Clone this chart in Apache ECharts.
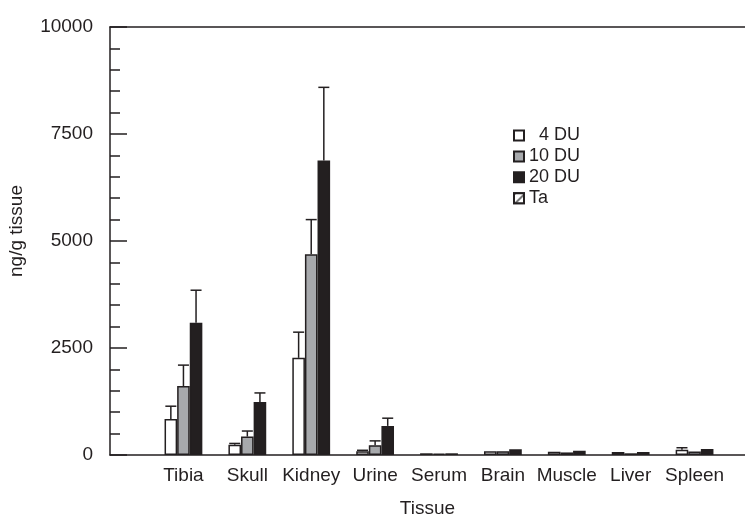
<!DOCTYPE html>
<html>
<head>
<meta charset="utf-8">
<script src="https://cdn.jsdelivr.net/npm/echarts@6/dist/echarts.min.js"></script>
<style>
html, body { margin: 0; padding: 0; background: #fff; }
#chart { width: 745px; height: 515px; }
</style>
</head>
<body>
<div id="chart"></div>
<script>
// 组织类别
var tissues = ['Tibia', 'Skull', 'Kidney', 'Urine', 'Serum', 'Brain', 'Muscle', 'Liver', 'Spleen'];
var seriesNames = ['  4 DU', '10 DU', '20 DU', 'Ta'];

// 平均值 (ng/g)
var du4 = [840, 240, 2270, 90, 40, 90, 75, 70, 120];
var du10 = [1610, 430, 4690, 230, 30, 90, 60, 40, 80];
var du20 = [3090, 1240, 6880, 680, 40, 135, 100, 70, 140];
var ta = ['-', '-', '-', '-', '-', '-', '-', '-', '-'];

// 误差线顶端 (均值 + SD)
var du4Err = [1140, 270, 2870, 110, 40, 90, 75, 70, 170];
var du10Err = [2100, 560, 5500, 330, 30, 90, 60, 40, 80];
var du20Err = [3850, 1450, 8590, 860, 40, 135, 100, 70, 140];

var yTicks = [0, 2500, 5000, 7500, 10000];

var BAR_W = 12.6;
var INK = '#231f20';
var FONT = 'Liberation Sans, Arial, Helvetica, sans-serif';

var myChart = echarts.init(document.getElementById('chart'));

// 误差线数据: [类别, 均值, 上限, 序号]
var errData = [];
[[du4, du4Err], [du10, du10Err], [du20, du20Err]].forEach(function (pair, k) {
    pair[0].forEach(function (v, i) {
        if (pair[1][i] > v) {
            errData.push([i, v, pair[1][i], k]);
        }
    });
});

function barStyle(fill) {
    return { color: fill, borderColor: INK, borderWidth: 1.5 };
}

myChart.setOption({
    animation: false,
    textStyle: { fontFamily: FONT, color: INK },
    grid: [
        { left: 110, right: 0, top: 27, bottom: 60, outerBoundsMode: 'none', containLabel: false },      // 坐标框
        { left: 151.5, right: 18.5, top: 27, bottom: 60, outerBoundsMode: 'none', containLabel: false }  // 柱子
    ],
    legend: {
        data: seriesNames,
        orient: 'vertical',
        left: 508,
        top: 121.5,
        itemWidth: 10,
        itemHeight: 10,
        itemGap: 2.9,
        icon: 'rect',
        textStyle: { fontSize: 18, color: INK, fontFamily: FONT }
    },
    xAxis: [
        {
            gridIndex: 0, type: 'value', min: 0, max: 1, position: 'bottom',
            axisLine: { lineStyle: { color: INK, width: 1.5 } },
            axisTick: { show: false }, axisLabel: { show: false }, splitLine: { show: false },
            name: 'Tissue', nameLocation: 'middle', nameGap: 44,
            nameTextStyle: { fontSize: 19, color: INK, fontFamily: FONT }
        },
        {
            gridIndex: 0, type: 'value', min: 0, max: 1, position: 'top',
            axisLine: { lineStyle: { color: INK, width: 1.5 } },
            axisTick: { show: false }, axisLabel: { show: false }, splitLine: { show: false }
        },
        {
            gridIndex: 1, type: 'category', data: tissues,
            axisLine: { show: false }, axisTick: { show: false },
            axisLabel: { fontSize: 19, color: INK, margin: 11, interval: 0, fontFamily: FONT }
        }
    ],
    yAxis: [
        {
            gridIndex: 0, type: 'value', min: 0, max: 10000, interval: 2500,
            axisLine: { show: true, lineStyle: { color: INK, width: 1.5 } },
            axisTick: { show: true, inside: true, length: 17, lineStyle: { color: INK, width: 1.5 } },
            minorTick: { show: true, splitNumber: 5, length: 10, lineStyle: { color: INK, width: 1.5 } },
            axisLabel: {
                fontSize: 19, color: INK, margin: 17, fontFamily: FONT,
                formatter: function (v) { return yTicks.indexOf(v) >= 0 ? String(v) : ''; }
            },
            splitLine: { show: false },
            name: 'ng/g tissue', nameLocation: 'middle', nameGap: 84, nameRotate: 90,
            nameTextStyle: { fontSize: 19, color: INK, fontFamily: FONT, padding: [0, 0, 0, 20] }
        },
        {
            gridIndex: 1, type: 'value', min: 0, max: 10000, show: false
        }
    ],
    series: [
        {
            name: seriesNames[0], type: 'bar', xAxisIndex: 2, yAxisIndex: 1,
            data: du4, barWidth: BAR_W, barGap: '0%', itemStyle: barStyle('#ffffff')
        },
        {
            name: seriesNames[1], type: 'bar', xAxisIndex: 2, yAxisIndex: 1,
            data: du10, barWidth: BAR_W, barGap: '0%', itemStyle: barStyle('#a7a9ac')
        },
        {
            name: seriesNames[2], type: 'bar', xAxisIndex: 2, yAxisIndex: 1, stack: 'last',
            data: du20, barWidth: BAR_W, barGap: '0%', itemStyle: barStyle(INK)
        },
        {
            name: seriesNames[3], type: 'bar', xAxisIndex: 2, yAxisIndex: 1, stack: 'last',
            data: ta, barWidth: BAR_W, barGap: '0%',
            itemStyle: {
                color: '#ffffff', borderColor: INK, borderWidth: 1.5,
                decal: {
                    symbol: 'rect', symbolSize: 1, color: '#777777', backgroundColor: '#ffffff',
                    dashArrayX: [1, 0], dashArrayY: [1.5, 5], rotation: -Math.PI / 4
                }
            }
        },
        {
            name: 'err', type: 'custom', xAxisIndex: 2, yAxisIndex: 1, z: 5,
            data: errData,
            renderItem: function (params, api) {
                var base = api.coord([api.value(0), api.value(1)]);
                var top = api.coord([api.value(0), api.value(2)]);
                var x = base[0] + (api.value(3) - 1) * BAR_W;
                var st = { stroke: INK, lineWidth: 1.5 };
                return {
                    type: 'group',
                    children: [
                        { type: 'line', shape: { x1: x, y1: base[1], x2: x, y2: top[1] }, style: st },
                        { type: 'line', shape: { x1: x - 5.5, y1: top[1], x2: x + 5.5, y2: top[1] }, style: st }
                    ]
                };
            }
        }
    ]
});
</script>
</body>
</html>
